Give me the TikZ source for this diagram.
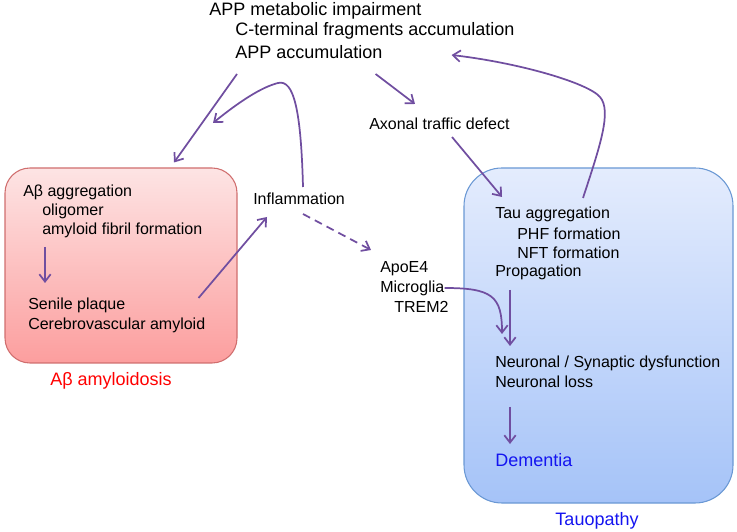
\documentclass[tikz,border=0pt]{standalone}
\usepackage{fontspec}
\setmainfont{Liberation Sans}
\usepackage{tikz}
\usetikzlibrary{arrows.meta}
\definecolor{arrpurple}{RGB}{112, 78, 160}
\definecolor{amyline}{RGB}{208, 110, 110}
\definecolor{amytop}{RGB}{253, 228, 228}
\definecolor{amybot}{RGB}{252, 158, 158}
\definecolor{tauline}{RGB}{106, 152, 212}
\definecolor{tautop}{RGB}{228, 236, 253}
\definecolor{taubot}{RGB}{165, 195, 248}
\definecolor{demblue}{RGB}{20, 20, 240}

\begin{document}
\begin{tikzpicture}[x=0.75pt, y=0.75pt,
    txt/.style={anchor=west, inner sep=0pt, font=\fontsize{12}{14}\selectfont},
    bigtxt/.style={anchor=west, inner sep=0pt, font=\fontsize{13.5}{16}\selectfont},
    arr/.style={arrpurple, line width=1.3pt, -{Straight Barb[length=5.5pt,width=8.5pt]}}]
    \useasboundingbox (0,0) rectangle (737,531);

    % Abeta amyloidosis box
    \node (abbox) [draw=amyline, line width=0.8pt, rounded corners=18.75pt,
        top color=amytop, bottom color=amybot, inner sep=0pt,
        minimum width=174pt, minimum height=146.25pt] at (121,265.5) {};
    % Tauopathy box
    \node (taubox) [draw=tauline, line width=0.8pt, rounded corners=28.5pt,
        top color=tautop, bottom color=taubot, inner sep=0pt,
        minimum width=201.75pt, minimum height=251.25pt] at (598.5,195.5) {};

    % APP
    \node[bigtxt] (appimp) at (209,520) {APP metabolic impairment};
    \node[bigtxt] (ctf) at (235,500) {C-terminal fragments accumulation};
    \node[bigtxt] (appacc) at (235,479) {APP accumulation};

    \node[txt] (axonal) at (369,407) {Axonal traffic defect};
    \node[txt] (inflam) at (253,332) {Inflammation};

    % amyloid side
    \node[txt] (abagg) at (23,339) {Aβ aggregation};
    \node[txt] (oligo) at (42,320) {oligomer};
    \node[txt] (fibril) at (42,301) {amyloid fibril formation};
    \node[txt] (senile) at (28,226) {Senile plaque};
    \node[txt] (cva) at (28,206) {Cerebrovascular amyloid};
    \node[bigtxt, anchor=center, red] (abtitle) at (111,150) {Aβ amyloidosis};

    % risk factors
    \node[txt] (apoe) at (380,262) {ApoE4};
    \node[txt] (micro) at (380,243) {Microglia};
    \node[txt] (trem) at (394,224) {TREM2};

    % tau side
    \node[txt] (tauagg) at (495,317) {Tau aggregation};
    \node[txt] (phf) at (517,297) {PHF formation};
    \node[txt] (nft) at (517,278) {NFT formation};
    \node[txt] (prop) at (495,259) {Propagation};
    \node[txt] (neuro) at (495,168) {Neuronal / Synaptic dysfunction};
    \node[txt] (loss) at (495,149) {Neuronal loss};
    \node[bigtxt, demblue] (dem) at (495,71) {Dementia};
    \node[bigtxt, anchor=center, demblue] (tautitle) at (597,10) {Tauopathy};

    % arrows
    \coordinate (abfeed) at (213,408);
    \draw[arr] ([shift={(2,-22)}]appacc.west) -- ([shift={(53,5)}]abbox.north);
    \draw[arr] ([shift={(50,12)}]inflam.west) .. controls (301,420) and (294,452) .. (278,448)
        .. controls (262,444) and (240,430) .. (abfeed);
    \draw[arr] ([shift={(-39,-32.5)}]abbox.east) -- ([shift={(14,-18)}]inflam.west);
    \draw[arr, dash pattern=on 6pt off 4pt] ([shift={(50,-15)}]inflam.west) -- ([shift={(-9,19)}]apoe.west);
    \draw[arr] ([shift={(-7,-22)}]appacc.east) -- ([shift={(46,20)}]axonal.west);
    \draw[arr] ([shift={(83,-13)}]axonal.west) -- ([shift={(7,17)}]tauagg.west);
    \draw[arr] ([shift={(88,16)}]tauagg.west) .. controls (600,385) and (612,420) .. (600,434)
        .. controls (588,448) and (520,468) .. ([shift={(69,-3)}]appacc.east);
    \draw[arr] (micro.east) .. controls (492,243) and (502,235) .. ([shift={(7,29)}]neuro.west);

    \draw[arr] ([shift={(3,-17)}]fibril.west) -- ([shift={(17,22)}]senile.west);
    \draw[arr] ([shift={(15,-18)}]prop.west) -- ([shift={(15,17)}]neuro.west);
    \draw[arr] ([shift={(15,-25)}]loss.west) -- ([shift={(15,16)}]dem.west);
\end{tikzpicture}
\end{document}
